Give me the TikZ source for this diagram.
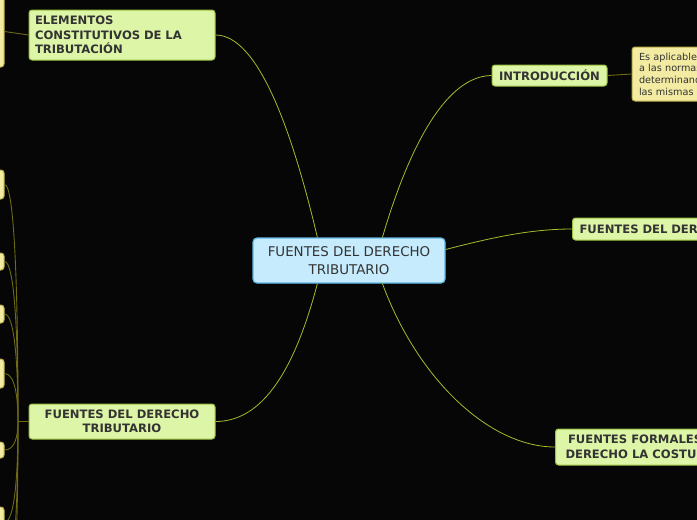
\documentclass[tikz,border=0pt]{standalone}
\usepackage{fontspec}
\setmainfont{DejaVu Sans}
\usetikzlibrary{calc}
\definecolor{bg}{HTML}{060606}
\definecolor{gfill}{HTML}{DDF5A6}
\definecolor{gborder}{HTML}{9CC040}
\definecolor{yfill}{HTML}{F3EBA2}
\definecolor{yborder}{HTML}{B9AC4C}
\definecolor{bfill}{HTML}{C6EBFC}
\definecolor{bborder}{HTML}{5DB8E6}
\definecolor{txt}{HTML}{333333}
\definecolor{mainline}{HTML}{A8BA2C}
\definecolor{subline}{HTML}{6E6A16}
\begin{document}
\begin{tikzpicture}[x=1pt,y=-1pt,
  every node/.style={text=txt, inner sep=0pt},
  bfont/.style={font=\fontsize{11.6}{14.5}\selectfont\bfseries},
  gnode/.style={draw=gborder, fill=gfill, rounded corners=3pt, line width=1pt, bfont},
  ynode/.style={draw=yborder, fill=yfill, rounded corners=3pt, line width=1pt},
  cnode/.style={draw=bborder, fill=bfill, rounded corners=4pt, line width=1.2pt,
    font=\fontsize{13.4}{18}\selectfont, align=center},
  mline/.style={draw=mainline, line width=0.8pt},
  sline/.style={draw=subline, line width=0.9pt}]
\fill[bg] (0,0) rectangle (697,520);
\clip (0,0) rectangle (697,520);

% central node
\node[cnode, minimum width=192, minimum height=45] (c) at (349,260.5)
  {FUENTES DEL DERECHO\\TRIBUTARIO};

% first-level nodes
\node[gnode, minimum width=186, minimum height=50, text width=174, align=left]
  (elem) at (122,35) {ELEMENTOS\\CONSTITUTIVOS DE LA\\TRIBUTACIÓN};
\node[gnode, minimum width=115, minimum height=21] (intro) at (549.5,75.5) {INTRODUCCIÓN};
\node[gnode, minimum height=22, text width=200, align=left, anchor=west, inner xsep=7pt]
  (fder) at (572,229) {FUENTES DEL DERECHO};
\node[gnode, minimum height=36, align=center, anchor=west, inner xsep=10pt]
  (fform) at (555,447) {FUENTES FORMALES DEL\\DERECHO LA COSTUMBRE};
\node[gnode, minimum width=186, minimum height=35, align=center]
  (fbot) at (122,421.5) {FUENTES DEL DERECHO\\TRIBUTARIO};

% second-level nodes
\node[ynode, minimum width=90, minimum height=54, text width=76, align=left,
  font=\fontsize{9.7}{11.7}\selectfont] (es) at (677,74)
  {Es aplicable\\a las normas\\determinando\\las mismas};
\node[ynode, minimum width=30, minimum height=71] (l0) at (-11,31.5) {};
\node[ynode, minimum width=30, minimum height=29] (l1) at (-11,184.5) {};
\node[ynode, minimum width=30, minimum height=17] (l2) at (-11,261.5) {};
\node[ynode, minimum width=30, minimum height=18] (l3) at (-11,314) {};
\node[ynode, minimum width=30, minimum height=29] (l4) at (-11,373.5) {};
\node[ynode, minimum width=30, minimum height=16] (l5) at (-11,450) {};
\node[ynode, minimum width=30, minimum height=30] (l6) at (-11,522) {};
\coordinate (l7) at (4,580);
\coordinate (l8) at (4,640);

% main connectors
\coordinate (cA) at ($(c.north west)+(65,0)$);
\coordinate (cB) at ($(c.north west)+(130,0)$);
\coordinate (cC) at ($(c.east)+(0,-11)$);
\coordinate (cD) at ($(c.south west)+(130,0)$);
\coordinate (cE) at ($(c.south west)+(65,0)$);
\draw[mline] (cA) .. controls (292,130) and (258,35) .. (elem.east);
\draw[mline] (cB) .. controls (408,150) and (445,76) .. (intro.west);
\draw[mline] (cC) .. controls (490,238) and (530,229) .. (fder.west);
\draw[mline] (cD) .. controls (418,380) and (490,447) .. (fform.west);
\draw[mline] (cE) .. controls (292,380) and (258,421.5) .. (fbot.east);

% sub connectors
\draw[sline] (l0.east) -- (elem.west);
\draw[sline] (intro.east) -- (es.west);
\coordinate (sp) at (18,421.5);
\draw[sline] (fbot.west) -- (sp);
\foreach \n in {l1,l2,l3,l4,l5,l6}{
  \draw[sline] (\n.east) .. controls ($(\n.east)+(10,0)$) and ($(sp)!0.55!(sp|-\n.east)$) .. (sp);
}
\foreach \n in {l7,l8}{
  \draw[sline] (\n) .. controls ($(\n)+(10,0)$) and ($(sp)!0.55!(sp|-\n)$) .. (sp);
}
\end{tikzpicture}
\end{document}
